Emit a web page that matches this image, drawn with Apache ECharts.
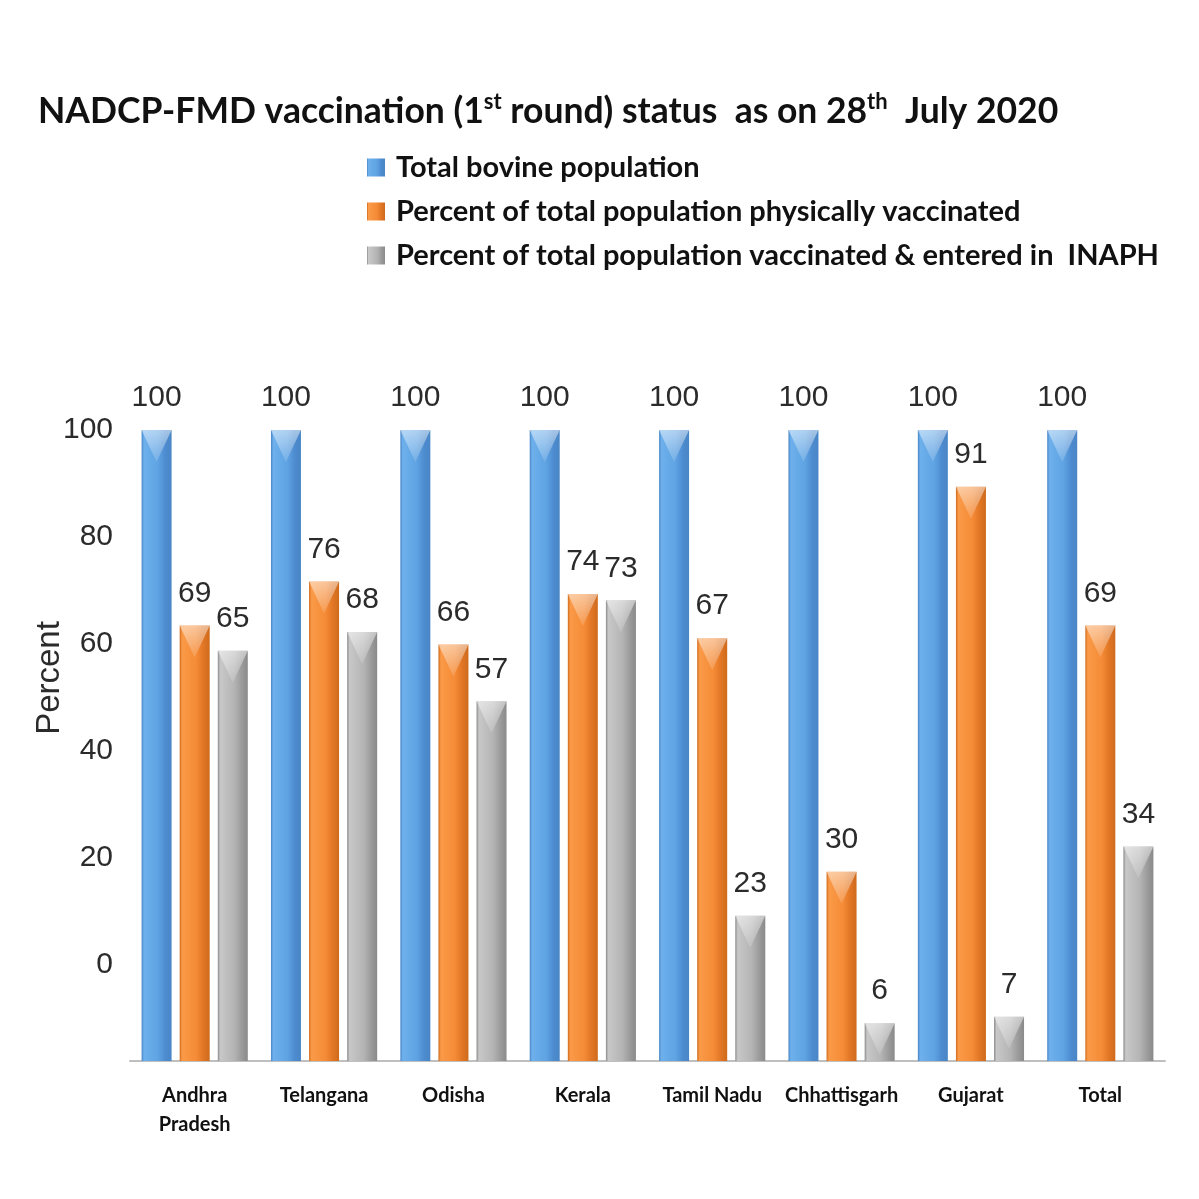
<!DOCTYPE html>
<html>
<head>
<meta charset="utf-8">
<script src="https://cdn.jsdelivr.net/npm/echarts@6/dist/echarts.min.js"></script>
<style>
  html, body { margin: 0; padding: 0; background: #fff; }
  #main { width: 1199px; height: 1199px; }
</style>
</head>
<body>
<div id="main"></div>
<script>
var states = ['Andhra\nPradesh', 'Telangana', 'Odisha', 'Kerala', 'Tamil Nadu', 'Chhattisgarh', 'Gujarat', 'Total'];
var totalPop = [100, 100, 100, 100, 100, 100, 100, 100];
var physVacc = [69, 76, 66, 74, 67, 30, 91, 69];
var inaphVacc = [65, 68, 57, 73, 23, 6, 7, 34];
var yTicks = [0, 20, 40, 60, 80, 100];

var seriesNames = [
  'Total bovine population',
  'Percent of total population physically vaccinated',
  'Percent of total population vaccinated & entered in  INAPH'
];

var chart = echarts.init(document.getElementById('main'));
var numFont = '"Liberation Sans Narrow", "Arial Narrow", "Liberation Sans", sans-serif';
var headFont = 'Lato, "Open Sans", sans-serif';

// horizontal shading for the pseudo-3D bars
function shade(edge, light, mid, dark) {
  return new echarts.graphic.LinearGradient(0, 0, 1, 0, [
    { offset: 0, color: edge },
    { offset: 0.08, color: light },
    { offset: 0.55, color: mid },
    { offset: 0.8, color: dark },
    { offset: 1, color: edge }
  ]);
}
var fills = [
  shade('#4a86c6', '#6db0ec', '#5fa3e3', '#4c8bcf'),
  shade('#cf6a1c', '#fa9a48', '#f58b36', '#e07625'),
  shade('#8a8a8a', '#c8c8c8', '#b4b4b4', '#9b9b9b')
];
var legendColors = ['#5fa3e3', '#f58b36', '#b4b4b4'];

function barSeries(name, data, i) {
  return {
    name: name,
    type: 'bar',
    data: data,
    barWidth: 30,
    barGap: '27%',
    color: legendColors[i],
    itemStyle: { color: fills[i] },
    label: {
      show: true,
      position: 'top',
      distance: 17,
      fontFamily: numFont,
      fontSize: 30,
      color: '#2b2b2b'
    }
  };
}

// light triangle on top of every bar
function capSeries(data, i) {
  return {
    name: 'cap' + i,
    type: 'pictorialBar',
    data: data,
    barWidth: 30,
    barGap: '27%',
    symbol: 'path://M0,0 L20,0 L10,20 Z',
    symbolSize: [30, 32],
    symbolPosition: 'end',
    silent: true,
    z: 3,
    itemStyle: {
      color: new echarts.graphic.LinearGradient(0, 0, 0, 1, [
        { offset: 0, color: 'rgba(255,255,255,0.5)' },
        { offset: 1, color: 'rgba(255,255,255,0.12)' }
      ])
    }
  };
}

var option = {
  backgroundColor: '#fff',
  animation: false,
  title: {
    left: 33,
    top: 86,
    text: '{a|NADCP-FMD vaccination (1}{s|st}{a| round) status  as on 28}{s|th}{a|  July 2020}',
    textStyle: {
      rich: {
        a: { fontFamily: headFont, fontWeight: 'bold', fontSize: 35.5, color: '#111', lineHeight: 42 },
        s: { fontFamily: headFont, fontWeight: 'bold', fontSize: 22, color: '#111', lineHeight: 22, verticalAlign: 'top' }
      }
    }
  },
  legend: {
    orient: 'vertical',
    left: 362,
    top: 148,
    itemWidth: 18,
    itemHeight: 18,
    itemGap: 15,
    icon: 'rect',
    data: seriesNames,
    selectedMode: false,
    textStyle: {
      fontFamily: headFont,
      fontWeight: 'bold',
      fontSize: 29,
      lineHeight: 28,
      color: '#111',
      padding: [0, 0, 0, 6]
    }
  },
  grid: [
    { left: 130, right: 34, top: 430, bottom: 138 },
    { left: 130, right: 34, top: 430, height: 535 }
  ],
  xAxis: [
    {
      type: 'category',
      gridIndex: 0,
      data: states,
      axisLine: { lineStyle: { color: '#bfbfbf', width: 2 } },
      axisTick: { show: false },
      axisLabel: {
        interval: 0,
        margin: 20,
        fontFamily: headFont,
        fontWeight: 'bold',
        fontSize: 20,
        lineHeight: 29,
        color: '#111'
      }
    },
    { type: 'category', gridIndex: 1, data: states, show: false }
  ],
  yAxis: [
    {
      type: 'value',
      gridIndex: 0,
      min: 0,
      max: 100,
      show: false
    },
    {
      // the printed tick labels sit on their own scale in the original
      type: 'value',
      gridIndex: 1,
      min: yTicks[0],
      max: yTicks[yTicks.length - 1],
      interval: 20,
      axisLine: { show: false },
      axisTick: { show: false },
      splitLine: { show: false },
      axisLabel: {
        margin: 17,
        fontFamily: numFont,
        fontSize: 30,
        color: '#2b2b2b'
      }
    }
  ],
  graphic: [
    {
      type: 'text',
      x: 50,
      y: 678,
      rotation: Math.PI / 2,
      style: {
        text: 'Percent',
        fontFamily: '"Liberation Sans", Arial, sans-serif',
        fontSize: 33,
        fill: '#2b2b2b',
        align: 'center',
        verticalAlign: 'middle'
      }
    }
  ],
  series: [
    barSeries(seriesNames[0], totalPop, 0),
    barSeries(seriesNames[1], physVacc, 1),
    barSeries(seriesNames[2], inaphVacc, 2),
    capSeries(totalPop, 0),
    capSeries(physVacc, 1),
    capSeries(inaphVacc, 2)
  ]
};

chart.setOption(option);
</script>
</body>
</html>
